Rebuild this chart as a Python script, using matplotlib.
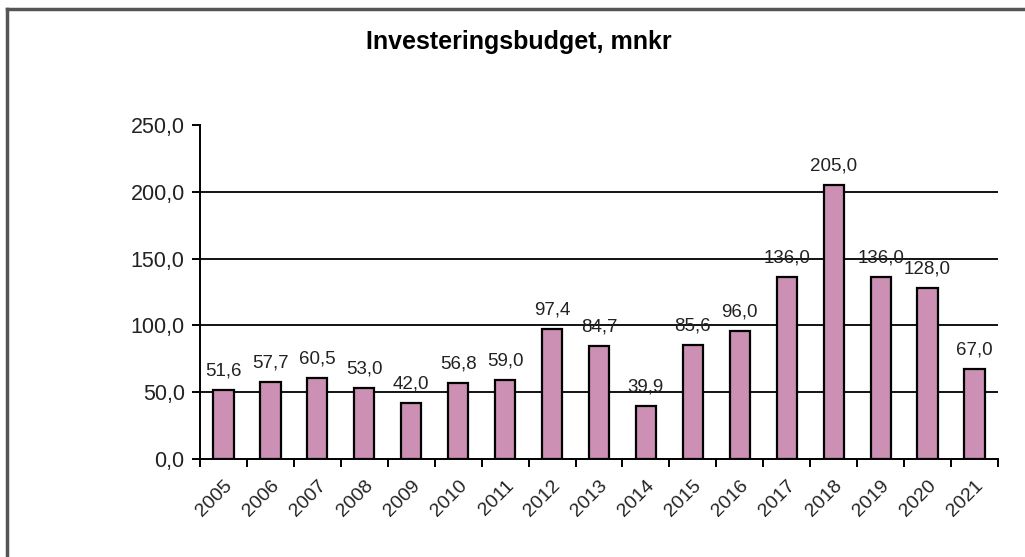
'''
investment budget bar chart
'''
import matplotlib.pyplot as plt
from matplotlib.lines import Line2D

years = ['2005', '2006', '2007', '2008', '2009', '2010', '2011', '2012', '2013',
         '2014', '2015', '2016', '2017', '2018', '2019', '2020', '2021']
budget = [51.6, 57.7, 60.5, 53.0, 42.0, 56.8, 59.0, 97.4, 84.7,
          39.9, 85.6, 96.0, 136.0, 205.0, 136.0, 128.0, 67.0]
yticks = [0, 50, 100, 150, 200, 250]


def fmt(v):
    ''' comma decimal '''
    return f'{v:.1f}'.replace('.', ',')


def main():
    ''' the main module '''
    plt.rcParams['font.family'] = ['Liberation Sans', 'DejaVu Sans']

    fig = plt.figure(figsize=(10.25, 5.57), dpi=100)
    ax = fig.add_axes([200 / 1025, 1 - 459 / 557, 798 / 1025, 334 / 557])

    x = list(range(len(years)))
    bars = ax.bar(x, budget, width=0.43, color='#cc90b4', edgecolor='black',
                  linewidth=1.6, zorder=3)

    for b, v in zip(bars, budget):
        ax.annotate(fmt(v), (b.get_x() + b.get_width() / 2, v),
                    xytext=(0, 10.5), textcoords='offset points',
                    ha='center', va='baseline', fontsize=13.5, color='#222222',
                    zorder=4)

    ax.set_xlim(-0.5, len(years) - 0.5)
    ax.set_ylim(0, 250)
    ax.set_yticks(yticks)
    ax.set_yticklabels([fmt(t) for t in yticks], fontsize=15.5, color='#222222')

    # labels at bar centres, tick marks between the bars
    ax.set_xticks(x)
    ax.set_xticklabels(years, fontsize=14, color='#222222', rotation=45,
                       ha='right', va='top', rotation_mode='anchor')
    ax.set_xticks([i - 0.5 for i in range(len(years) + 1)], minor=True)
    ax.tick_params(axis='x', which='major', length=0, pad=13)
    ax.tick_params(axis='x', which='minor', length=6, width=1.4, direction='out')
    ax.tick_params(axis='y', length=6, width=1.4, direction='out', pad=5)

    for t in yticks[1:-1]:
        ax.axhline(t, color='black', linewidth=1.3, zorder=1)

    ax.spines['top'].set_visible(False)
    ax.spines['right'].set_visible(False)
    ax.spines['left'].set_linewidth(1.4)
    ax.spines['bottom'].set_linewidth(1.4)

    fig.text(519 / 1025, 1 - 42 / 557, 'Investeringsbudget, mnkr',
             ha='center', va='center', fontsize=18, fontweight='bold')

    # outer frame, only top and left edges are visible in the crop
    fig.add_artist(Line2D([7 / 1025, 1], [1 - 9 / 557, 1 - 9 / 557],
                          color='#555555', linewidth=2.5))
    fig.add_artist(Line2D([7 / 1025, 7 / 1025], [0, 1 - 9 / 557],
                          color='#555555', linewidth=2.5))

    fig.savefig('out.png', dpi=100)


if __name__ == '__main__':
    main()
